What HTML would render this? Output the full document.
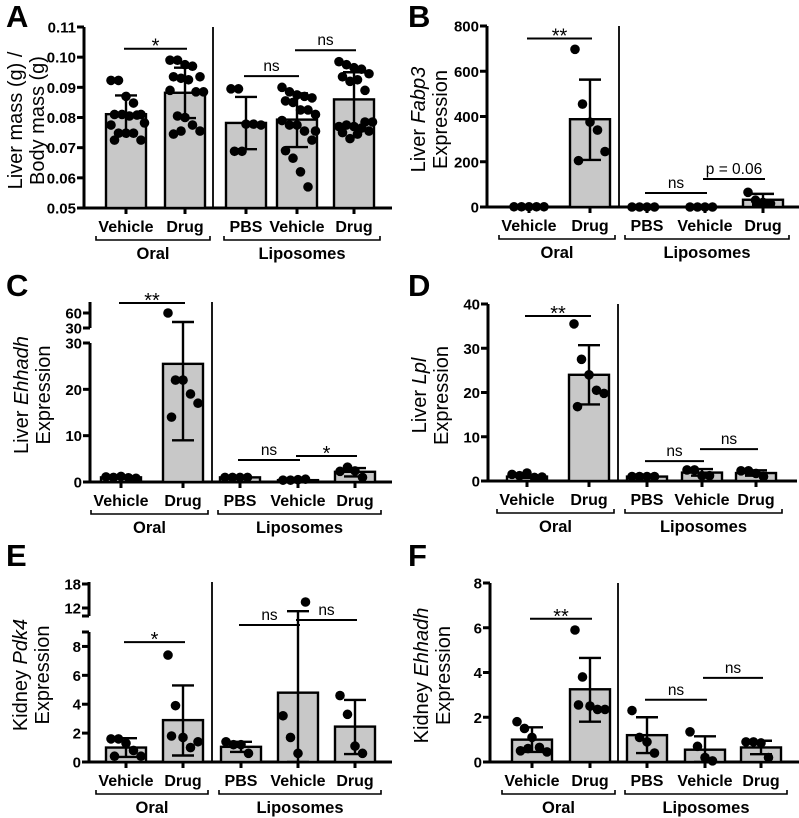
<!DOCTYPE html>
<html><head><meta charset="utf-8"><style>
html,body{margin:0;padding:0;background:#fff;}
svg{display:block;font-family:"Liberation Sans",Arial,sans-serif;}
</style></head><body>
<svg id="fig" width="799" height="818" viewBox="0 0 799 818" xmlns="http://www.w3.org/2000/svg"></svg>
<script>
const categories = ["Vehicle","Drug","PBS","Vehicle","Drug"];
const groups = ["Oral","Liposomes"];

// Panel A
const aMeans=[0.0811,0.0882,0.0782,0.0793,0.0860];
const aErrLo=[0.0748,0.0798,0.0695,0.0702,0.0768];
const aErrHi=[0.0873,0.0965,0.0868,0.0880,0.0950];
const aPoints=[[0.0923,0.0923,0.0870,0.0848,0.0810,0.0810,0.0810,0.0805,0.0808,0.0782,0.0775,0.0748,0.0748,0.0748,0.0725,0.0725],
[0.0990,0.0990,0.0975,0.0970,0.0935,0.0935,0.0930,0.0925,0.0885,0.0885,0.0890,0.0805,0.0800,0.0775,0.0755,0.0745,0.0755],
[0.0895,0.0895,0.0778,0.0778,0.0775,0.0688,0.0688],
[0.0900,0.0885,0.0875,0.0870,0.0865,0.0855,0.0850,0.0825,0.0825,0.0810,0.0790,0.0775,0.0775,0.0755,0.0725,0.0690,0.0665,0.0620,0.0570,0.0755],
[0.0985,0.0975,0.0965,0.0960,0.0945,0.0935,0.0920,0.0925,0.0890,0.0785,0.0770,0.0775,0.0770,0.0765,0.0755,0.0750,0.0730,0.0745,0.0785]];
const aTicks=[0.05,0.06,0.07,0.08,0.09,0.10,0.11];
const aTickLabels=["0.05","0.06","0.07","0.08","0.09","0.10","0.11"];
const aSigFrom=[0,2,3], aSigTo=[1,3,4], aSigText=["*","ns","ns"], aSigY=[0.1028,0.0937,0.1023];

// Panel B
const bMeans=[1,388,0,0,32];
const bErrLo=[0,208,0,0,10];
const bErrHi=[2,563,0,0,58];
const bPoints=[[1,1,1,1,1],[697,455,375,340,245,205],[0,0,0,0],[0,0,0,0],[65,30,20,15]];
const bTicks=[0,200,400,600,800];
const bTickLabels=["0","200","400","600","800"];
const bSigFrom=[0,2,3], bSigTo=[1,3,4], bSigText=["**","ns","p = 0.06"], bSigY=[745,62,124];

// Panel C (broken axis)
const cMeans=[1.0,25.5,1.0,0.4,2.2];
const cErrLo=[0.8,9,0.9,0.3,1.2];
const cErrHi=[1.2,42,1.1,0.5,3.0];
const cPoints=[[1.1,1.0,1.2,0.9,0.8],[60,22,22,19,17,14],[1,1,1,1],[0.4,0.4,0.5,0.6],[2.3,3.2,2.4,1.0]];
const cTicks=[0,10,20,30,30,60];
const cTickSeg=[0,0,0,0,1,1];
const cTickLabels=["0","10","20","30","30","60"];
const cSigFrom=[0,2,3], cSigTo=[1,3,4], cSigText=["**","ns","*"], cSigY=[80,4.75,5.6];

// Panel D
const dMeans=[1.0,24.0,1.0,1.9,1.8];
const dErrLo=[0.7,17.3,0.9,1.2,1.2];
const dErrHi=[1.3,30.7,1.1,2.7,2.4];
const dPoints=[[1.5,1.2,1.8,0.8,0.9],[35.5,27.5,24,20.5,19.8,16.8],[1,1,1,1],[2.5,2.5,1.2,1.2],[2.3,2.3,1.7,1.0]];
const dTicks=[0,10,20,30,40];
const dTickLabels=["0","10","20","30","40"];
const dSigFrom=[0,2,3], dSigTo=[1,3,4], dSigText=["**","ns","ns"], dSigY=[37.3,4.5,7.2];

// Panel E (broken axis)
const eMeans=[1.0,2.9,1.05,4.8,2.45];
const eErrLo=[0.35,0.45,0.7,0,0.55];
const eErrHi=[1.65,5.3,1.4,11.2,4.3];
const ePoints=[[1.6,1.6,1.3,0.8,0.4,0.4],[7.4,3.9,1.7,1.0,1.4,1.8],[1.4,1.2,1.2,0.6],[3.2,1.7,0.6,13.5],[4.6,3.3,1.1,0.6]];
const eTicks=[0,2,4,6,8,9,10,12,18];
const eTickSeg=[0,0,0,0,0,0,2,2,2];
const eTickLabels=["0","2","4","6","8","","","12","18"];
const eSigFrom=[0,2,3], eSigTo=[1,3,4], eSigText=["*","ns","ns"], eSigY=[8.3,9.44,9.75];

// Panel F
const fMeans=[1.0,3.25,1.2,0.55,0.65];
const fErrLo=[0.45,1.8,0.4,0,0.35];
const fErrHi=[1.55,4.65,2.0,1.15,0.95];
const fPoints=[[1.8,1.5,1.1,0.65,0.45,0.5,0.6],[5.9,3.8,2.5,2.35,2.35,2.55],[2.3,1.1,0.9,0.4],[1.35,0.7,0.2,0.05],[0.9,0.9,0.85,0.2]];
const fTicks=[0,2,4,6,8];
const fTickLabels=["0","2","4","6","8"];
const fSigFrom=[0,2,3], fSigTo=[1,3,4], fSigText=["**","ns","ns"], fSigY=[6.4,2.78,3.76];

const NS="http://www.w3.org/2000/svg";
const svg=document.getElementById('fig');
function el(tag,attrs,parent,text){const e=document.createElementNS(NS,tag);for(const k in attrs)e.setAttribute(k,attrs[k]);if(text!==undefined)e.textContent=text;(parent||svg).appendChild(e);return e;}

function makeScale(segs){
  return function(v,si){
    let s;
    if(si!==undefined) s=segs[si];
    else{ s=segs.find(g=>v>=g.d0&&v<=g.d1); if(!s) s=(v<segs[0].d0)?segs[0]:segs[segs.length-1]; }
    return s.p0+(v-s.d0)*(s.p1-s.p0)/(s.d1-s.d0);
  };
}

function panel(cfg){
  const g=el('g',{});  
  const y=makeScale(cfg.segs);
  const bottom=cfg.segs[0].p0;
  const L=el('text',{x:cfg.lx,y:cfg.ly,'font-size':31,'font-weight':'bold'},g,cfg.letter);
   
  cfg.segs.forEach(s=>{ if(s.axis){ const a=el('line',{x1:cfg.ax,x2:cfg.ax,y1:s.p0,y2:s.p1,stroke:'#000','stroke-width':3},g);   }});
  const xa=el('line',{x1:cfg.ax-1.5,x2:cfg.xEnd,y1:bottom,y2:bottom,stroke:'#000','stroke-width':3},g);
   
  cfg.ticks.forEach((t,i)=>{
    const ty=y(t,cfg.tickSeg?cfg.tickSeg[i]:undefined);
    const tk=el('line',{x1:cfg.ax-7,x2:cfg.ax,y1:ty,y2:ty,stroke:'#000','stroke-width':3},g);
     
    if(cfg.tickLabels[i]){const tl=el('text',{x:cfg.ax-8,y:ty+5.5,'font-size':15,'font-weight':'bold','text-anchor':'end'},g,cfg.tickLabels[i]);
     }
  });
  const dv=el('line',{x1:cfg.div,x2:cfg.div,y1:cfg.segs[cfg.segs.length-1].p1,y2:bottom,stroke:'#000','stroke-width':1.8},g);
   
  const my=(cfg.segs[cfg.segs.length-1].p1+bottom)/2+3;
  cfg.title.forEach((line,li)=>{
    const tx=cfg.ax-68+li*22;
    const t=el('text',{x:tx,y:my,'font-size':20,'text-anchor':'middle','dominant-baseline':'central',transform:`rotate(-90 ${tx} ${my})`},g);
     
    line.forEach(p=>{el('tspan',p[1]?{'font-style':'italic'}:{},t,p[0]);});
  });
  cfg.means.forEach((m,i)=>{
    const cx=cfg.cx[i];
    const top=y(m);
    const b=el('rect',{x:cx-20,y:Math.min(top,bottom),width:40,height:Math.abs(bottom-top),fill:'#c8c8c8',stroke:'#000','stroke-width':2.4},g);
     
    const lo=y(cfg.lo[i]),hi=y(cfg.hi[i]);
    const eb=el('path',{d:`M${cx},${lo}V${hi}M${cx-11},${hi}H${cx+11}M${cx-11},${lo}H${cx+11}`,stroke:'#000','stroke-width':2.4,fill:'none'},g);
     
    const pts=cfg.pts[i];
    pts.forEach((v,j)=>{
      const off=((j%5)-2)*7.5+((Math.floor(j/5)%2)?3.5:0);
      const c=el('circle',{cx:cx+off,cy:y(v),r:4.8,fill:'#000'},g);
       
    });
    const tk=el('line',{x1:cx,x2:cx,y1:bottom,y2:bottom+6,stroke:'#000','stroke-width':3},g);
     
    const cl=el('text',{x:cx,y:bottom+24,'font-size':16,'font-weight':'bold','text-anchor':'middle'},g,categories[i]);
     
  });
  const br=[[cfg.cx[0]-30,cfg.cx[1]+25],[cfg.cx[2]-22,cfg.cx[4]+26]];
  br.forEach((r,k)=>{
    const bk=el('path',{d:`M${r[0]},${bottom+28}V${bottom+32}H${r[1]}V${bottom+28}`,stroke:'#000','stroke-width':1.6,fill:'none'},g);
     
    const gl=el('text',{x:(r[0]+r[1])/2,y:bottom+51,'font-size':16.5,'font-weight':'bold','text-anchor':'middle'},g,groups[k]);
     
  });
  cfg.sigFrom.forEach((f,k)=>{
    const sy=y(cfg.sigY[k]);
    const x1=cfg.cx[f]-2,x2=cfg.cx[cfg.sigTo[k]]+2;
    const sl=el('line',{x1:x1,x2:x2,y1:sy,y2:sy,stroke:'#000','stroke-width':2},g);
     
    const star=cfg.sigText[k].indexOf('*')===0;
    const st=el('text',{x:(x1+x2)/2,y:sy-(star?-4:5),'font-size':star?20:15.5,'text-anchor':'middle'},g,cfg.sigText[k]);
     
  });
}

panel({letter:'A',lx:6,ly:27,ax:84,xEnd:392,div:213,cx:[126,185,246,297,354],
  segs:[{d0:0.05,d1:0.11,p0:208,p1:27,axis:true}],ticks:aTicks,tickLabels:aTickLabels,
  title:[[["Liver mass (g) /",0]],[["Body mass (g)",0]]],
  means:aMeans,lo:aErrLo,hi:aErrHi,pts:aPoints,sigFrom:aSigFrom,sigTo:aSigTo,sigText:aSigText,sigY:aSigY});
panel({letter:'B',lx:408,ly:27,ax:487,xEnd:799,div:619,cx:[529,590,647,705,763],
  segs:[{d0:0,d1:800,p0:207,p1:26,axis:true}],ticks:bTicks,tickLabels:bTickLabels,
  title:[[["Liver ",0],["Fabp3",1]],[["Expression",0]]],
  means:bMeans,lo:bErrLo,hi:bErrHi,pts:bPoints,sigFrom:bSigFrom,sigTo:bSigTo,sigText:bSigText,sigY:bSigY});
panel({letter:'C',lx:6,ly:296,ax:90,xEnd:392,div:212,cx:[121,183,240,298,355],
  segs:[{d0:0,d1:30,p0:482,p1:343,axis:true},{d0:30,d1:82,p0:328,p1:302,axis:true}],
  ticks:cTicks,tickSeg:cTickSeg,tickLabels:cTickLabels,
  title:[[["Liver ",0],["Ehhadh",1]],[["Expression",0]]],
  means:cMeans,lo:cErrLo,hi:cErrHi,pts:cPoints,sigFrom:cSigFrom,sigTo:cSigTo,sigText:cSigText,sigY:cSigY});
panel({letter:'D',lx:408,ly:296,ax:488,xEnd:797,div:618,cx:[527,589,647,702,756],
  segs:[{d0:0,d1:40,p0:481,p1:304,axis:true}],ticks:dTicks,tickLabels:dTickLabels,
  title:[[["Liver ",0],["Lpl",1]],[["Expression",0]]],
  means:dMeans,lo:dErrLo,hi:dErrHi,pts:dPoints,sigFrom:dSigFrom,sigTo:dSigTo,sigText:dSigText,sigY:dSigY});
panel({letter:'E',lx:6,ly:566,ax:89,xEnd:392,div:212,cx:[126,183,241,298,355],
  segs:[{d0:0,d1:9,p0:762,p1:632,axis:true},{d0:9,d1:10,p0:632,p1:616,axis:false},{d0:10,d1:18.5,p0:616,p1:582,axis:true}],
  ticks:eTicks,tickSeg:eTickSeg,tickLabels:eTickLabels,
  title:[[["Kidney ",0],["Pdk4",1]],[["Expression",0]]],
  means:eMeans,lo:eErrLo,hi:eErrHi,pts:ePoints,sigFrom:eSigFrom,sigTo:eSigTo,sigText:eSigText,sigY:eSigY});
panel({letter:'F',lx:408,ly:566,ax:490,xEnd:799,div:618,cx:[532,590,647,705,761],
  segs:[{d0:0,d1:8,p0:762,p1:583,axis:true}],ticks:fTicks,tickLabels:fTickLabels,
  title:[[["Kidney ",0],["Ehhadh",1]],[["Expression",0]]],
  means:fMeans,lo:fErrLo,hi:fErrHi,pts:fPoints,sigFrom:fSigFrom,sigTo:fSigTo,sigText:fSigText,sigY:fSigY});
</script>
</body></html>
